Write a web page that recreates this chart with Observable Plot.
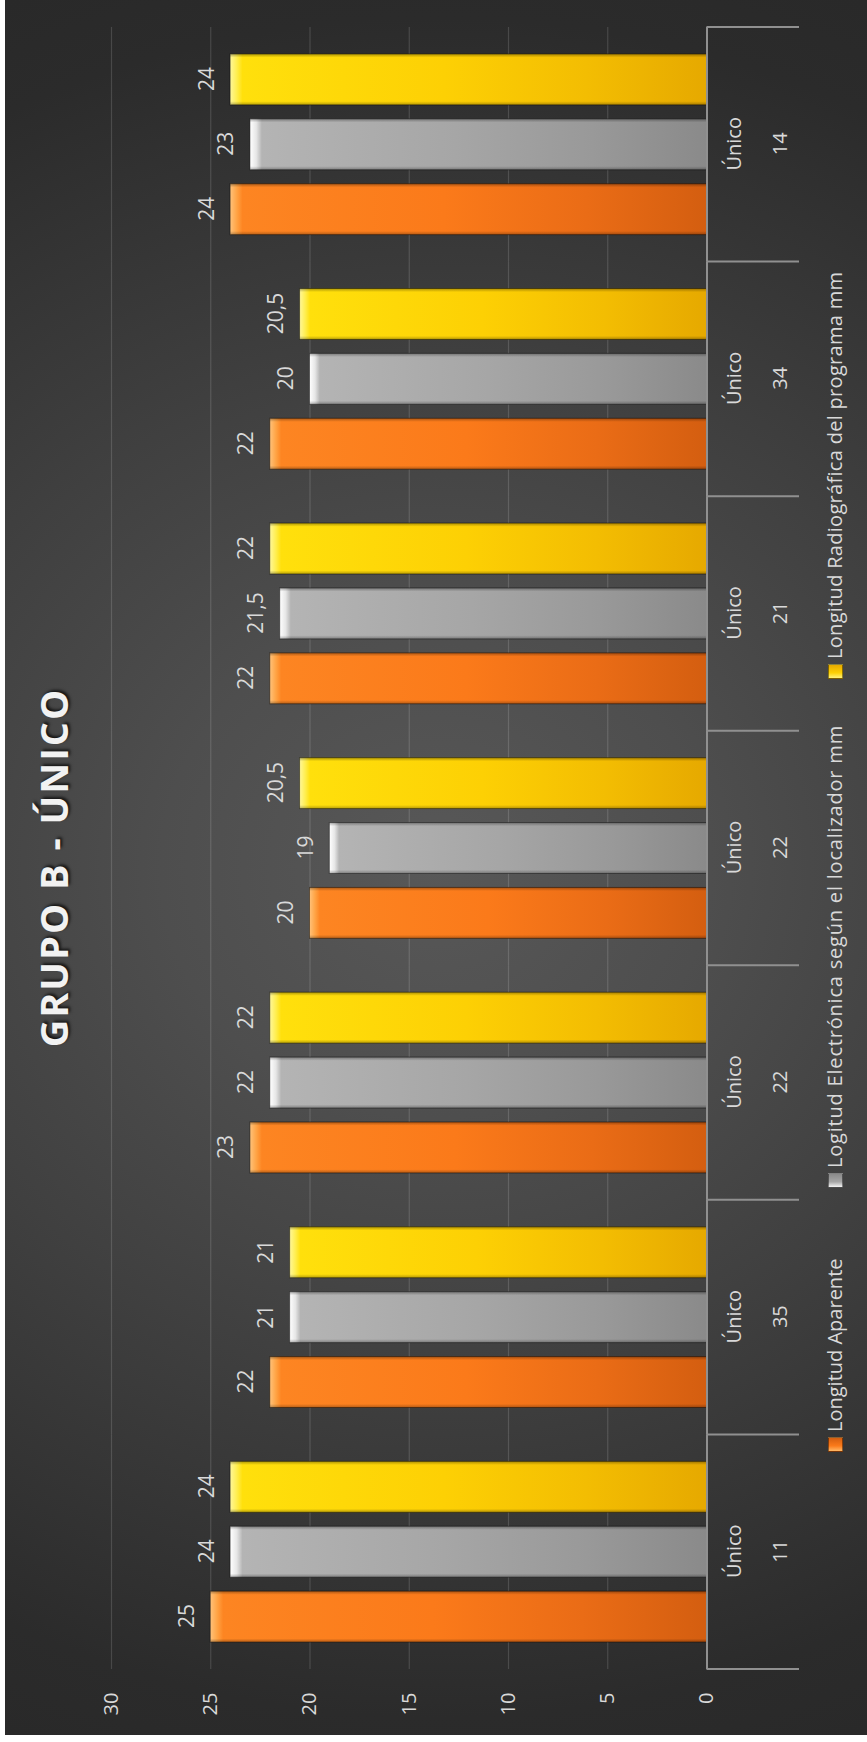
<!DOCTYPE html>
<html><head><meta charset="utf-8">
<script src="https://cdn.jsdelivr.net/npm/d3@7"></script>
<script src="https://cdn.jsdelivr.net/npm/@observablehq/plot@0.6"></script>
<style>
html,body{margin:0;padding:0;background:#fff;width:867px;height:1742px;overflow:hidden;}
#chart{position:absolute;left:0;top:0;width:1735px;height:862px;transform-origin:0 0;transform:translate(5px,1735px) rotate(-90deg);
background:radial-gradient(ellipse 1000px 1100px at 50% 50%, #585858 0%, #4e4e4e 25%, #404040 50%, #343434 70%, #2b2b2b 85%, #282828 100%);
font-family:"Open Sans",sans-serif;color:#d9d9d9;overflow:hidden;}
#title{position:absolute;left:0;top:29px;width:100%;text-align:center;font-size:38px;line-height:38px;font-weight:700;letter-spacing:2px;color:#f2f2f2;text-shadow:2px 2px 3px rgba(0,0,0,.7);}
#plot{position:absolute;left:0;top:90px;}
#legend{position:absolute;left:0;top:816px;width:100%;height:28px;font-size:20px;line-height:28px;color:#d9d9d9;}
.item{position:absolute;top:0;display:flex;align-items:center;gap:5px;white-space:nowrap;height:28px}
.sw{width:15px;height:15px;box-sizing:border-box;border:1px solid rgba(0,0,0,.45)}
</style></head>
<body>
<div id="chart">
  <div id="title"></div>
  <div id="plot"></div>
  <div id="legend"></div>
</div>
<script>
// ---- data ----
const titleText = "GRUPO B - ÚNICO";
const groupLabel = "Único";
const groupNums = ["11", "35", "22", "22", "21", "34", "14"];
const seriesNames = [
  "Longitud Aparente",
  "Logitud Electrónica según el localizador mm",
  "Longitud Radiográfica del programa mm"
];
const aparente     = [25, 22, 23, 20, 22, 22, 24];
const electronica  = [24, 21, 22, 19, 21.5, 20, 23];
const radiografica = [24, 21, 22, 20.5, 22, 20.5, 24];
const yTicks = [0, 5, 10, 15, 20, 25, 30];

// ---- styling ----
const legendLeft = [283, 547, 1056];
const legendSpacing = ["0px", "0.8px", "0.3px"];
const gradIds = ["gOrange", "gGray", "gYellow"];
const gradStops = [
  [[0, "#ffc27a"], [0.014, "#ffa445"], [0.026, "#fd8522"], [0.45, "#fb7a1a"], [0.75, "#ea6c16"], [1, "#d45e10"]],
  [[0, "#ffffff"], [0.014, "#e6e6e6"], [0.026, "#b4b4b4"], [0.45, "#a6a6a6"], [0.75, "#999999"], [1, "#8a8a8a"]],
  [[0, "#fff79a"], [0.014, "#ffee50"], [0.026, "#ffe00c"], [0.45, "#fdd004"], [0.75, "#f3bd02"], [1, "#e6a900"]]
];
const swatchCss = [
  "linear-gradient(90deg,#ffb866,#fb7a1a 40%,#d45e10)",
  "linear-gradient(90deg,#f4f4f4,#a6a6a6 40%,#8a8a8a)",
  "linear-gradient(90deg,#fff27a,#fdd004 40%,#e6a900)"
];

const seriesValues = [aparente, electronica, radiografica];
const groups = groupNums.map((_, i) => i);
const table = groups.flatMap(g => seriesNames.map((s, k) => ({g, series: s, value: seriesValues[k][g]})));
const fmt = v => String(v).replace(".", ",");

const chart = Plot.plot({
  width: 1735,
  height: 720,
  marginTop: 16,
  marginBottom: 108.5,
  marginLeft: 66,
  marginRight: 27,
  style: {background: "transparent", color: "#d9d9d9", fontFamily: "'Open Sans', sans-serif", fontSize: "20px", overflow: "visible"},
  fx: {domain: groups, padding: 0, round: false, label: null},
  x: {domain: seriesNames, paddingInner: 0.215, paddingOuter: 0.415, round: false, axis: null},
  y: {domain: [0, 30], label: null},
  color: {type: "ordinal", domain: seriesNames, range: gradIds.map(id => `url(#${id})`)},
  marks: [
    Plot.gridY(yTicks, {stroke: "#ffffff", strokeOpacity: 0.14, strokeWidth: 1.2}),
    Plot.barY(table, {fx: "g", x: "series", y: "value", fill: "series", stroke: "rgba(0,0,0,0.45)", strokeWidth: 1}),
    Plot.barY(table, {fx: "g", x: "series", y: "value", fill: "url(#gShade)"}),
    Plot.ruleY([0], {stroke: "#909090", strokeWidth: 2}),
    Plot.text(table, {fx: "g", x: "series", y: "value", text: d => fmt(d.value), lineAnchor: "bottom", dy: -17, fill: "#d9d9d9", fontSize: 21}),
    Plot.axisY({ticks: yTicks, tickSize: 0, tickPadding: 24, fontSize: 20, label: null, tickFormat: d => String(d)}),
    Plot.axisFx({anchor: "bottom", tickSize: 0, tickPadding: 1, lineHeight: 2.3, fontSize: 20, label: null,
      tickFormat: i => `${groupLabel}\n${groupNums[i]}`})
  ]
});

const svg = d3.select(chart);
const defs = svg.insert("defs", ":first-child");
gradIds.forEach((id, k) => {
  const lg = defs.append("linearGradient").attr("id", id).attr("x1", 0).attr("y1", 0).attr("x2", 0).attr("y2", 1);
  gradStops[k].forEach(([o, c]) => lg.append("stop").attr("offset", o).attr("stop-color", c));
});
const sh = defs.append("linearGradient").attr("id", "gShade").attr("x1", 0).attr("y1", 0).attr("x2", 1).attr("y2", 0);
[[0, "#000", 0.28], [0.07, "#000", 0.0], [0.5, "#fff", 0.0], [0.93, "#000", 0.0], [1, "#000", 0.32]]
  .forEach(([o, c, a]) => sh.append("stop").attr("offset", o).attr("stop-color", c).attr("stop-opacity", a));

// category boundary ticks from the fx scale
const fxS = chart.scale("fx"), yS = chart.scale("y");
const edges = groups.map(g => fxS.apply(g)).concat([fxS.apply(groups[groups.length - 1]) + fxS.bandwidth]);
const y0 = yS.apply(0);
svg.append("g").selectAll("line").data(edges).join("line")
  .attr("x1", d => d).attr("x2", d => d).attr("y1", y0).attr("y2", y0 + 92.5)
  .attr("stroke", "#909090").attr("stroke-width", 2);

document.getElementById("plot").appendChild(chart);
document.getElementById("title").textContent = titleText;

const legend = d3.select("#legend");
seriesNames.forEach((s, k) => {
  const it = legend.append("div").attr("class", "item").style("left", legendLeft[k] + "px");
  it.append("span").attr("class", "sw").style("background", swatchCss[k]);
  it.append("span").style("letter-spacing", legendSpacing[k]).text(s);
});
</script>
</body></html>
